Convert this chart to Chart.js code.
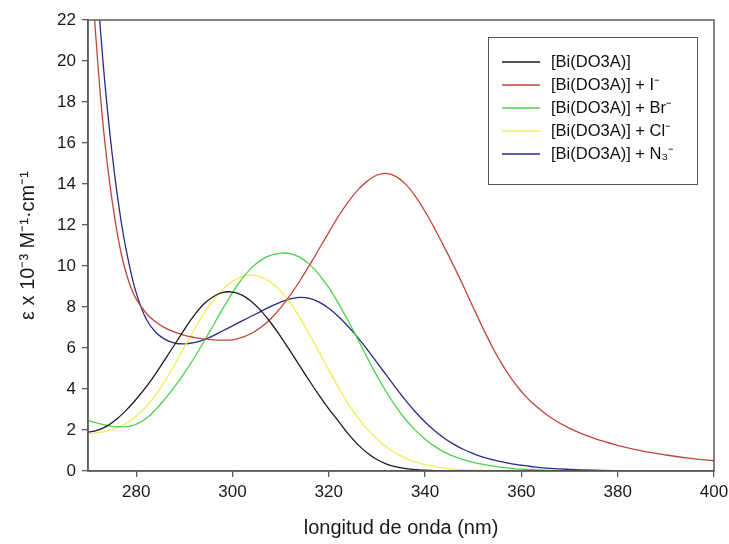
<!DOCTYPE html>
<html>
<head>
<meta charset="utf-8">
<script src="https://cdn.jsdelivr.net/npm/chart.js@4.4.0/dist/chart.umd.min.js"></script>
<style>
  html, body { margin: 0; padding: 0; background: #ffffff; }
  #wrap { width: 729px; height: 544px; }
</style>
</head>
<body>
<div id="wrap"><canvas id="c" width="729" height="544"></canvas></div>
<script>
// ---- data ----
const wavelengths = [270,271,272,273,274,275,276,277,278,279,280,
  282,284,286,288,290,292,294,296,298,300,302,304,306,308,310,312,314,316,318,320,
  322,324,326,328,330,332,334,336,338,340,342,344,346,348,350,352,354,356,358,360,362,
  366,370,375,380,385,390,395,400];

const seriesLabels = ["[Bi(DO3A)]", "[Bi(DO3A)] + I\u207B", "[Bi(DO3A)] + Br\u207B", "[Bi(DO3A)] + Cl\u207B", "[Bi(DO3A)] + N\u2083\u207B"];

const biDO3A = [1.90,1.93,1.99,2.08,2.20,2.35,2.54,2.75,2.98,3.23,3.50,
  4.08,4.73,5.44,6.17,6.90,7.58,8.13,8.50,8.71,8.73,8.58,8.26,7.80,7.22,6.56,5.85,5.12,4.39,3.69,3.03,
  2.43,1.82,1.30,0.88,0.56,0.34,0.20,0.12,0.07,0.04,0.02,0.01,0,0,0,0,0,0,0,0,0,
  0,0,0,0,0,0,0,0];

const withIodide = [27.5,23.4,20.0,17.2,15.0,13.2,11.7,10.5,9.60,8.90,8.40,
  7.72,7.28,6.98,6.77,6.62,6.52,6.45,6.40,6.38,6.40,6.52,6.72,7.02,7.44,7.96,8.58,9.28,10.04,10.84,11.64,
  12.42,13.12,13.70,14.14,14.44,14.52,14.36,13.98,13.40,12.66,11.82,10.92,9.98,9.00,7.98,6.98,6.04,5.20,4.48,3.88,3.38,
  2.62,2.08,1.60,1.25,0.98,0.78,0.62,0.50];

const withBromide = [2.47,2.40,2.33,2.27,2.22,2.18,2.16,2.15,2.16,2.20,2.28,
  2.55,2.98,3.52,4.12,4.78,5.50,6.28,7.10,7.92,8.70,9.38,9.92,10.30,10.53,10.63,10.60,10.42,10.08,9.58,8.94,
  8.18,7.34,6.44,5.52,4.64,3.84,3.12,2.50,1.98,1.55,1.20,0.92,0.71,0.55,0.42,0.32,0.24,0.18,0.13,0.09,0.06,
  0.03,0.01,0,0,0,0,0,0];

const withChloride = [1.82,1.84,1.87,1.91,1.96,2.02,2.10,2.20,2.33,2.49,2.67,
  3.12,3.70,4.40,5.20,6.04,6.88,7.65,8.32,8.86,9.25,9.48,9.55,9.46,9.20,8.78,8.20,7.48,6.66,5.80,4.92,
  4.08,3.30,2.62,2.04,1.56,1.17,0.86,0.62,0.44,0.31,0.21,0.14,0.09,0.06,0.04,0.03,0.02,0.01,0,0,0,
  0,0,0,0,0,0,0,0];

const withAzide = [31.0,27.0,23.4,20.3,17.7,15.5,13.6,12.0,10.7,9.60,8.70,
  7.45,6.78,6.42,6.24,6.20,6.26,6.40,6.60,6.84,7.08,7.32,7.56,7.80,8.03,8.24,8.40,8.47,8.42,8.24,7.94,
  7.54,7.06,6.52,5.92,5.30,4.66,4.03,3.43,2.88,2.39,1.96,1.60,1.30,1.05,0.85,0.68,0.55,0.44,0.35,0.28,0.22,
  0.13,0.08,0.04,0.02,0.01,0,0,0];

const xTicks = [280,300,320,340,360,380,400];
const yTicks = [0,2,4,6,8,10,12,14,16,18,20,22];

// ---- chart ----
const seriesValues = [biDO3A, withIodide, withBromide, withChloride, withAzide];
const seriesColors = ["#1c1c1c", "#c0463a", "#4cd24c", "#f2ec5a", "#2a2a86"];
const FONT = "'Liberation Sans', Arial, sans-serif";

const datasets = seriesValues.map((vals, i) => ({
  label: seriesLabels[i],
  data: wavelengths.map((w, j) => ({x: w, y: vals[j]})),
  borderColor: seriesColors[i],
  backgroundColor: seriesColors[i],
  borderWidth: 1.3,
  pointRadius: 0,
  tension: 0.4,
  clip: 0,
  fill: false
}));

const frameAndLegend = {
  id: 'frameAndLegend',
  afterDraw(chart) {
    const ctx = chart.ctx;
    const a = chart.chartArea;
    ctx.save();
    // plot frame
    ctx.strokeStyle = '#5c5c5c';
    ctx.lineWidth = 1.5;
    ctx.strokeRect(a.left, a.top, a.right - a.left, a.bottom - a.top);
    // legend box
    const bx = 488, by = 37, bw = 209, bh = 147;
    ctx.lineWidth = 1;
    ctx.strokeStyle = '#555555';
    ctx.strokeRect(bx + 0.5, by + 0.5, bw, bh);
    ctx.font = "16.5px " + FONT;
    ctx.textBaseline = 'middle';
    ctx.fillStyle = '#111111';
    const rows = [62, 85, 108, 131, 154];
    chart.data.datasets.forEach((ds, i) => {
      const y = rows[i];
      ctx.strokeStyle = ds.borderColor;
      ctx.lineWidth = 1.3;
      ctx.beginPath();
      ctx.moveTo(502, y);
      ctx.lineTo(540, y);
      ctx.stroke();
      ctx.fillText(ds.label, 551, y);
    });
    ctx.restore();
  }
};

new Chart(document.getElementById('c'), {
  type: 'line',
  data: { datasets },
  options: {
    responsive: false,
    animation: false,
    devicePixelRatio: 1,
    layout: { padding: { left: 0, right: 15, top: 20, bottom: 0 } },
    plugins: {
      legend: { display: false },
      tooltip: { enabled: false }
    },
    scales: {
      x: {
        type: 'linear',
        min: 270, max: 400,
        afterBuildTicks: s => { s.ticks = xTicks.map(v => ({value: v})); },
        afterFit: s => { s.height = 73; s.paddingRight = 0; s.paddingLeft = 0; },
        grid: { drawOnChartArea: false, drawTicks: true, tickLength: 6, color: '#5c5c5c', lineWidth: 1.3 },
        border: { display: true, color: '#5c5c5c', width: 1.5 },
        ticks: { color: '#1a1a1a', font: { family: FONT, size: 17 }, padding: 5, maxRotation: 0 },
        title: { display: true, text: 'longitud de onda (nm)', color: '#1a1a1a',
                 font: { family: FONT, size: 20 }, padding: { top: 0, bottom: 4 } }
      },
      y: {
        min: 0, max: 22,
        afterBuildTicks: s => { s.ticks = yTicks.map(v => ({value: v})); },
        afterFit: s => { s.width = 88; s.paddingTop = 0; s.paddingBottom = 0; },
        grid: { drawOnChartArea: false, drawTicks: true, tickLength: 6, color: '#5c5c5c', lineWidth: 1.3 },
        border: { display: true, color: '#5c5c5c', width: 1.5 },
        ticks: { color: '#1a1a1a', font: { family: FONT, size: 17 }, padding: 6 },
        title: { display: true, text: '\u03B5 x 10\u207B\u00B3 M\u207B\u00B9\u00B7cm\u207B\u00B9', color: '#1a1a1a',
                 font: { family: FONT, size: 20 }, padding: { top: 16, bottom: 0 } }
      }
    }
  },
  plugins: [frameAndLegend]
});
</script>
</body>
</html>
